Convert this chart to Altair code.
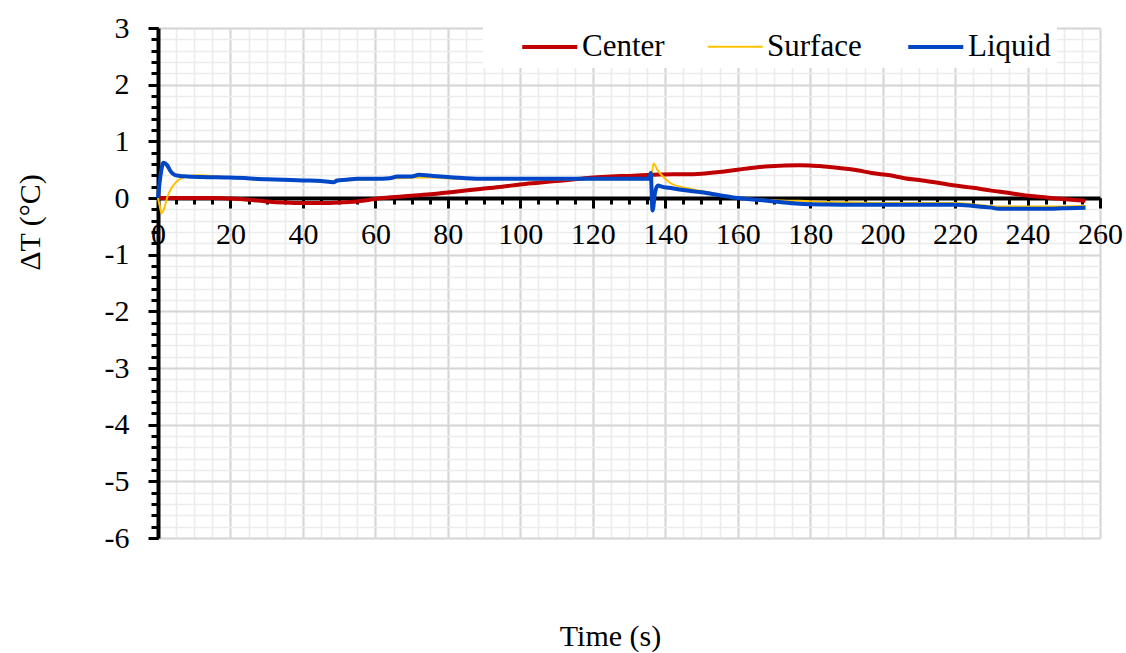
import altair as alt
import pandas as pd

# ---------------- data ----------------
series_names = ["Center", "Surface", "Liquid"]
series_colors = ["#C00000", "#FFC000", "#0047C8"]
series_widths = [4, 2, 4]

center_t = [0, 5, 10, 16, 20, 25, 30, 35, 40, 45, 50, 55, 62, 70, 76, 82, 89, 95,
            100, 105, 110, 115, 120, 125, 130, 137, 142, 146, 150, 155, 160, 165,
            169, 173, 177, 180, 184, 188, 193, 197, 202, 206, 211, 216, 220, 225,
            230, 235, 239, 244, 248, 252, 256]
center_v = [0, 0, 0, 0, -0.01, -0.03, -0.06, -0.08, -0.09, -0.09, -0.08, -0.06,
            0.0, 0.04, 0.07, 0.11, 0.16, 0.2, 0.24, 0.27, 0.3, 0.33, 0.36, 0.38,
            0.39, 0.41, 0.42, 0.42, 0.43, 0.46, 0.5, 0.54, 0.56, 0.575, 0.58,
            0.575, 0.555, 0.53, 0.49, 0.44, 0.4, 0.35, 0.31, 0.26, 0.22, 0.18,
            0.13, 0.09, 0.05, 0.02, -0.01, -0.03, -0.05]

surface_t = [0, 0.5, 1, 1.5, 2.5, 3.5, 5, 6.5, 8, 11, 15, 20, 30, 40, 45, 48.5,
             50, 55, 60, 66, 72, 76, 80, 90, 110, 135.5, 136.2, 136.8, 137.8,
             139.5, 141.5, 144, 147, 152, 156, 160, 165, 170, 177, 185, 193,
             200, 220, 226, 232, 245, 256]
surface_v = [0, -0.15, -0.27, -0.22, 0.0, 0.15, 0.28, 0.35, 0.38, 0.4, 0.39,
             0.37, 0.33, 0.31, 0.29, 0.28, 0.3, 0.32, 0.33, 0.35, 0.36, 0.36,
             0.35, 0.34, 0.33, 0.33, 0.4, 0.61, 0.5, 0.37, 0.26, 0.2, 0.16,
             0.1, 0.05, 0.01, -0.02, -0.04, -0.05, -0.07, -0.08, -0.09, -0.09,
             -0.12, -0.15, -0.15, -0.14]

liquid_t = [0, 0.7, 1.5, 2.5, 3.5, 4.5, 6, 8, 12, 20, 30, 40, 45, 48.5, 49.5,
            52, 55, 60, 64, 66, 70, 72, 76, 80, 85, 90, 100, 110, 120, 130,
            135.5, 136, 136.5, 137.2, 138, 139, 141, 145, 150, 155, 160, 165,
            170, 177, 185, 193, 200, 210, 220, 225, 230, 232, 240, 245, 250, 256]
liquid_v = [0, 0.4, 0.62, 0.58, 0.47, 0.41, 0.39, 0.38, 0.37, 0.36, 0.33, 0.31,
            0.3, 0.28, 0.31, 0.32, 0.34, 0.34, 0.35, 0.38, 0.38, 0.41, 0.39,
            0.37, 0.35, 0.34, 0.34, 0.34, 0.34, 0.34, 0.34, 0.44, -0.22, 0.1,
            0.22, 0.2, 0.18, 0.14, 0.1, 0.05, 0.0, -0.03, -0.06, -0.1, -0.115,
            -0.12, -0.12, -0.12, -0.12, -0.14, -0.17, -0.19, -0.19, -0.19,
            -0.18, -0.17]

x_minor_ticks = list(range(0, 261, 5))
x_major_ticks = list(range(0, 261, 20))
y_minor_ticks = [round(-6 + 0.2 * i, 1) for i in range(46)]
y_major_ticks = list(range(-6, 4))

rows = []
for name, ts, vs in [("Center", center_t, center_v),
                     ("Surface", surface_t, surface_v),
                     ("Liquid", liquid_t, liquid_v)]:
    for t, v in zip(ts, vs):
        rows.append({"series": name, "t": t, "v": v})
df = pd.DataFrame(rows)

FONT = "Liberation Serif"
FS = 30
W, H = 942, 510
X_OFFSET = -340  # put the x axis at y = 0

xs = alt.Scale(domain=[0, 260], nice=False, zero=False)
ys = alt.Scale(domain=[-6, 3], nice=False, zero=False)

base = alt.Chart(df)


def ghost(xaxis, yaxis):
    return base.mark_line(opacity=0).encode(
        x=alt.X("t:Q", scale=xs, axis=xaxis),
        y=alt.Y("v:Q", scale=ys, axis=yaxis),
        detail="series:N",
    )


blank = dict(labels=False, domain=False, title=None)

minor_grid = ghost(
    alt.Axis(orient="bottom", values=x_minor_ticks, grid=True, gridColor="#ececec",
             gridWidth=1.6, ticks=False, **blank),
    alt.Axis(orient="left", values=y_minor_ticks, grid=True, gridColor="#ececec",
             gridWidth=1.6, ticks=False, **blank),
)
major_grid = ghost(
    alt.Axis(orient="bottom", values=x_major_ticks, grid=True, gridColor="#d6d6d6",
             gridWidth=2, ticks=False, **blank),
    alt.Axis(orient="left", values=y_major_ticks, grid=True, gridColor="#d6d6d6",
             gridWidth=2, ticks=False, **blank),
)
minor_ticks = ghost(
    alt.Axis(orient="bottom", values=x_minor_ticks, grid=False, ticks=True,
             tickSize=6, tickWidth=3, tickColor="black", offset=X_OFFSET, **blank),
    alt.Axis(orient="left", values=y_minor_ticks, grid=False, ticks=True,
             tickSize=7, tickWidth=3, tickColor="black", **blank),
)

SYM = 756  # sqrt = 27.5 ; path spans 4 units -> 55 px line
LFS = 31
legend = alt.Legend(
    orient="none", legendX=325, legendY=-3, direction="horizontal",
    symbolType="M-1,0H3", symbolSize=SYM, labelFont=FONT, labelFontSize=LFS,
    labelColor="black", labelOffset=30, columnPadding=38, fillColor="white",
    padding=6, symbolOpacity=1, symbolFillColor="transparent",
    titleOrient="left", titlePadding=31, titleFont=FONT, titleFontSize=LFS,
    labelExpr="datum.label == 'Liquid' ? 'Liquid   ' : datum.label",
)

lines = base.mark_line(interpolate="monotone", strokeJoin="round").encode(
    x=alt.X("t:Q", scale=xs, axis=alt.Axis(
        orient="bottom", values=x_major_ticks, grid=False, offset=X_OFFSET,
        domain=True, domainColor="black", domainWidth=4,
        ticks=True, tickSize=10, tickWidth=3, tickColor="black",
        labels=True, labelFont=FONT, labelFontSize=FS, labelColor="black",
        labelPadding=11, labelFlush=False, labelOverlap=False,
        title="Time (s)", titleFont=FONT, titleFontSize=FS, titleFontWeight="normal",
        titleColor="black", titleX=452, titleY=447, titleAlign="center",
        titleBaseline="alphabetic")),
    y=alt.Y("v:Q", scale=ys, axis=alt.Axis(
        orient="left", values=y_major_ticks, grid=False,
        domain=True, domainColor="black", domainWidth=4,
        ticks=True, tickSize=10, tickWidth=3, tickColor="black",
        labels=True, labelFont=FONT, labelFontSize=FS, labelColor="black",
        labelPadding=19, labelFlush=False, labelOverlap=False,
        labelExpr="'' + datum.value",
        title="ΔT (°C)", titleFont=FONT, titleFontSize=FS, titleFontWeight="normal",
        titleColor="black", titleX=-128, titleY=194, titleAlign="center",
        titleBaseline="middle", titleAngle=270)),
    color=alt.Color("series:N", sort=series_names, title=" ",
                    scale=alt.Scale(domain=series_names, range=series_colors),
                    legend=legend),
    strokeWidth=alt.StrokeWidth("series:N", sort=series_names, title=" ",
                                scale=alt.Scale(type="ordinal", domain=series_names,
                                                range=series_widths),
                                legend=legend),
)

chart = alt.layer(minor_grid, major_grid, minor_ticks, lines).resolve_axis(
    x="independent", y="independent"
).properties(
    width=W, height=H,
    autosize=alt.AutoSizeParams(type="none"),
    padding={"left": 158, "top": 28, "right": 26, "bottom": 115},
    background="white",
).configure_view(stroke=None).configure_axis(
    labelFont=FONT, labelFontSize=FS, labelColor="black",
    titleFont=FONT, titleFontSize=FS, titleColor="black",
).configure_legend(labelFont=FONT, labelFontSize=LFS)

chart.save("out.html", embed_options={"renderer": "svg", "actions": False})
